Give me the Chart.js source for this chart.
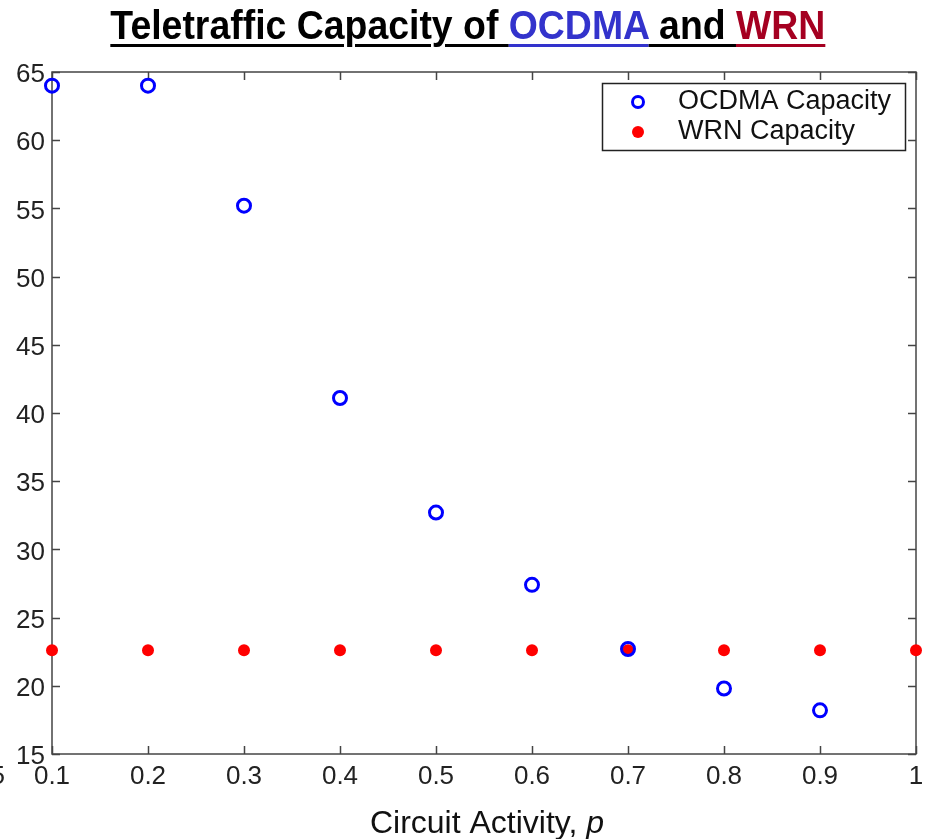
<!DOCTYPE html>
<html>
<head>
<meta charset="utf-8">
<script src="https://cdn.jsdelivr.net/npm/chart.js@4"></script>
<style>
html, body { margin: 0; padding: 0; background: #fff; }
#wrap { position: relative; width: 928px; height: 839px; overflow: hidden; }
#chart { position: absolute; left: 0; top: 0; }
#title { position: absolute; left: 0; top: 5px; width: 936px; text-align: center;
         font: bold 41px "Liberation Sans", Arial, sans-serif; line-height: 41px; white-space: nowrap; }
#title .inner { display: inline-block; transform-origin: center; }
.u { text-decoration: underline; text-decoration-thickness: 3px; text-underline-offset: 5px; }
</style>
</head>
<body>
<div id="wrap">
  <canvas id="chart" width="928" height="839"></canvas>
  <div id="title"><span class="inner" id="titleInner"><span class="u" style="color:#000">Teletraffic Capacity of </span><span class="u" style="color:#3333cc">OCDMA</span><span class="u" style="color:#000"> and </span><span class="u" style="color:#a50021">WRN</span></span></div>
</div>
<script>
// ---- data ----
const circuitActivity = [0.1, 0.2, 0.3, 0.4, 0.5, 0.6, 0.7, 0.8, 0.9, 1.0];
const ocdmaCapacity = [64, 64, 55.2, 41.1, 32.7, 27.4, 22.7, 19.8, 18.2];
const wrnCapacity = [22.6, 22.6, 22.6, 22.6, 22.6, 22.6, 22.6, 22.6, 22.6, 22.6];
const xTickValues = [0.1, 0.2, 0.3, 0.4, 0.5, 0.6, 0.7, 0.8, 0.9, 1];
const yTickValues = [15, 20, 25, 30, 35, 40, 45, 50, 55, 60, 65];
const seriesNames = ['OCDMA Capacity', 'WRN Capacity'];

const FONT = '"Liberation Sans", Arial, sans-serif';

// squeeze the title so it matches the narrow look of the original
(function fitTitle() {
    const inner = document.getElementById('titleInner');
    const w = inner.getBoundingClientRect().width;
    inner.style.transform = 'scaleX(' + (715 / w) + ')';
})();

// frame with inward ticks on all four sides, drawn under the markers
const framePlugin = {
    id: 'frame',
    beforeDatasetsDraw(chart) {
        const { ctx, chartArea: { left, right, top, bottom }, scales: { x, y } } = chart;
        ctx.save();
        ctx.strokeStyle = '#444';
        ctx.lineWidth = 1.5;
        ctx.strokeRect(left, top, right - left, bottom - top);
        ctx.beginPath();
        x.ticks.forEach(t => {
            const px = Math.round(x.getPixelForValue(t.value)) + 0.5;
            ctx.moveTo(px, bottom); ctx.lineTo(px, bottom - 8);
            ctx.moveTo(px, top); ctx.lineTo(px, top + 8);
        });
        y.ticks.forEach(t => {
            const py = Math.round(y.getPixelForValue(t.value)) + 0.5;
            ctx.moveTo(left, py); ctx.lineTo(left + 8, py);
            ctx.moveTo(right, py); ctx.lineTo(right - 8, py);
        });
        ctx.stroke();
        ctx.restore();
    },
    afterDraw(chart) {
        const { ctx, chartArea: { left, right } } = chart;
        ctx.save();
        // legend box
        ctx.fillStyle = '#fff';
        ctx.fillRect(602, 83, 303, 67);
        ctx.strokeStyle = '#222';
        ctx.lineWidth = 1.5;
        ctx.strokeRect(602.5, 83.5, 303, 67);
        ctx.font = '27px ' + FONT;
        ctx.fillStyle = '#111';
        ctx.textBaseline = 'middle';
        ctx.textAlign = 'left';
        ctx.fillText(seriesNames[0], 678, 102);
        ctx.fillText(seriesNames[1], 678, 132);
        ctx.beginPath();
        ctx.arc(638, 102, 5.5, 0, Math.PI * 2);
        ctx.strokeStyle = '#0000ff';
        ctx.lineWidth = 3;
        ctx.stroke();
        ctx.beginPath();
        ctx.arc(638, 132, 6, 0, Math.PI * 2);
        ctx.fillStyle = '#ff0000';
        ctx.fill();

        // x-axis label with italic p
        const cx = (left + right) / 2 + 3;
        ctx.fillStyle = '#111';
        ctx.textBaseline = 'alphabetic';
        ctx.font = '32px ' + FONT;
        const main = 'Circuit Activity, ';
        const wMain = ctx.measureText(main).width;
        ctx.font = 'italic 32px ' + FONT;
        const wP = ctx.measureText('p').width;
        const x0 = cx - (wMain + wP) / 2;
        ctx.font = '32px ' + FONT;
        ctx.fillText(main, x0, 833);
        ctx.font = 'italic 32px ' + FONT;
        ctx.fillText('p', x0 + wMain, 833);

        // clipped stray label at the far left edge
        ctx.font = '26px ' + FONT;
        ctx.fillStyle = '#222';
        ctx.textAlign = 'right';
        ctx.textBaseline = 'middle';
        ctx.fillText('5', 5, 777);
        ctx.restore();
    }
};

const ctx = document.getElementById('chart').getContext('2d');
new Chart(ctx, {
    type: 'scatter',
    data: {
        datasets: [
            {
                label: seriesNames[0],
                data: ocdmaCapacity.map((v, i) => ({ x: circuitActivity[i], y: v })),
                pointStyle: 'circle',
                pointRadius: 6.5,
                pointBorderWidth: 3,
                borderColor: '#0000ff',
                backgroundColor: 'rgba(0,0,0,0)',
                clip: false
            },
            {
                label: seriesNames[1],
                data: wrnCapacity.map((v, i) => ({ x: circuitActivity[i], y: v })),
                pointStyle: 'circle',
                pointRadius: 6,
                pointBorderWidth: 0,
                borderColor: '#ff0000',
                backgroundColor: '#ff0000',
                clip: false
            }
        ]
    },
    options: {
        responsive: false,
        animation: false,
        layout: { padding: { left: 0, right: 12, top: 72, bottom: 0 } },
        plugins: {
            legend: { display: false },
            tooltip: { enabled: false }
        },
        scales: {
            x: {
                type: 'linear',
                min: 0.1,
                max: 1,
                grid: { display: false, drawTicks: false },
                border: { display: false },
                afterBuildTicks: scale => { scale.ticks = xTickValues.map(v => ({ value: v })); },
                afterFit: scale => { scale.height = 85; scale.paddingLeft = 0; scale.paddingRight = 0; },
                ticks: {
                    font: { family: FONT, size: 26 },
                    color: '#222',
                    padding: 7,
                    maxRotation: 0,
                    callback: v => (v === 1 ? '1' : v.toFixed(1))
                }
            },
            y: {
                type: 'linear',
                min: 15,
                max: 65,
                grid: { display: false, drawTicks: false },
                border: { display: false },
                afterBuildTicks: scale => { scale.ticks = yTickValues.map(v => ({ value: v })); },
                afterFit: scale => { scale.width = 52; scale.paddingTop = 0; scale.paddingBottom = 0; },
                ticks: {
                    font: { family: FONT, size: 26 },
                    color: '#222',
                    padding: 7,
                    labelOffset: 3
                }
            }
        }
    },
    plugins: [framePlugin]
});
</script>
</body>
</html>
